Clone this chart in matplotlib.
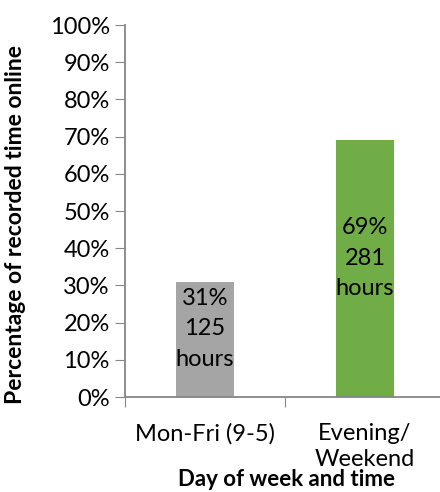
import matplotlib
matplotlib.use("Agg")
import matplotlib.pyplot as plt
import numpy as np

categories = ["Mon-Fri (9-5)", "Evening/\nWeekend"]
share = [0.31, 0.69]
hours = [125, 281]
colors = ["#A5A5A5", "#70AD47"]
yticks = [0, 0.1, 0.2, 0.3, 0.4, 0.5, 0.6, 0.7, 0.8, 0.9, 1.0]

plt.rcParams['font.family'] = ['Lato', 'DejaVu Sans']
axis_col = "#868686"
fs = 17

fig = plt.figure(figsize=(4.4, 4.92), dpi=100)
ax = fig.add_axes([125/440, 95/492, 320/440, 372/492])

pos = np.arange(len(categories)) + 0.5
ax.bar(pos, share, width=0.36, color=colors)

for p, s, h in zip(pos, share, hours):
    ax.text(p, s/2 + 0.028, "%d%%\n%d\nhours" % (round(s*100), h),
            ha="center", va="center", fontsize=fs, linespacing=1.55)

ax.set_xlim(0, 2)
ax.set_ylim(0, 1)
ax.set_yticks(yticks)
ax.set_yticklabels(["%d%%" % round(v*100) for v in yticks], fontsize=fs)
ax.set_xticks([0, 1, 2])
ax.set_xticklabels([])
ax.set_xticks(pos, minor=True)
ax.set_xticklabels(categories, minor=True, fontsize=fs, linespacing=1.25)
ax.tick_params(axis="x", which="minor", length=0, pad=19)
ax.tick_params(axis="x", which="major", length=7, color=axis_col, direction="out")
ax.tick_params(axis="y", length=7, color=axis_col, pad=4)

for side in ["top", "right"]:
    ax.spines[side].set_visible(False)
for side in ["left", "bottom"]:
    ax.spines[side].set_color(axis_col)
    ax.spines[side].set_linewidth(1.3)

fig.text(286/440, 1 - 480/492, "Day of week and time", ha="center", va="center",
         fontsize=16, fontweight="bold")
fig.text(16/440, 1 - 225/492, "Percentage of recorded time online", ha="center",
         va="center", rotation=90, fontsize=16.5, fontweight="bold")

fig.savefig("out.png", dpi=100)
